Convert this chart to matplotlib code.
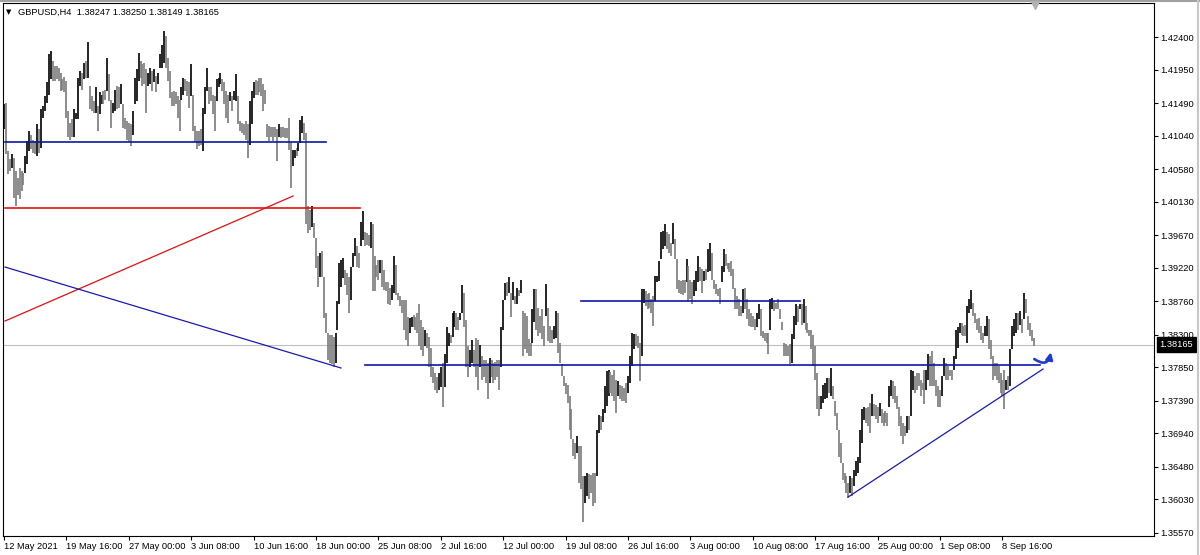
import matplotlib
matplotlib.use('Agg')
import matplotlib.pyplot as plt
import numpy as np
from matplotlib.lines import Line2D
from matplotlib.transforms import blended_transform_factory

plt.rcParams['font.family'] = ['Liberation Sans', 'DejaVu Sans']

symbol = 'GBPUSD,H4'
last_ohlc = [1.38247, 1.38250, 1.38149, 1.38165]
bid = 1.38165

# H4 bar highs / lows, 12 May 2021 08:00 onwards
highs = [
    # 12 May - 17 Jun
    1.4148, 1.4150, 1.4083, 1.4072, 1.4079, 1.4074, 1.4056, 1.4046, 1.4060, 1.4056,
    1.4053, 1.4076, 1.4097, 1.4111, 1.4106, 1.4099, 1.4097, 1.4120, 1.4113, 1.4141,
    1.4145, 1.4159, 1.4178, 1.4217, 1.4221, 1.4207, 1.4200, 1.4200, 1.4198, 1.4191,
    1.4182, 1.4185, 1.4180, 1.4138, 1.4122, 1.4127, 1.4141, 1.4136, 1.4184, 1.4194,
    1.4191, 1.4205, 1.4207, 1.4233, 1.4173, 1.4159, 1.4152, 1.4171, 1.4145, 1.4164,
    1.4161, 1.4166, 1.4168, 1.4212, 1.4189, 1.4154, 1.4150, 1.4168, 1.4173, 1.4171,
    1.4175, 1.4148, 1.4129, 1.4125, 1.4122, 1.4120, 1.4138, 1.4184, 1.4196, 1.4219,
    1.4207, 1.4203, 1.4205, 1.4196, 1.4191, 1.4198, 1.4194, 1.4196, 1.4187, 1.4191,
    1.4217, 1.4230, 1.4249, 1.4242, 1.4212, 1.4194, 1.4164, 1.4166, 1.4164, 1.4159,
    1.4154, 1.4171, 1.4184, 1.4182, 1.4180, 1.4178, 1.4203, 1.4161, 1.4118, 1.4111,
    1.4111, 1.4113, 1.4143, 1.4171, 1.4198, 1.4171, 1.4171, 1.4161, 1.4159, 1.4182,
    1.4184, 1.4191, 1.4182, 1.4178, 1.4166, 1.4161, 1.4164, 1.4159, 1.4166, 1.4189,
    1.4159, 1.4125, 1.4122, 1.4120, 1.4125, 1.4120, 1.4152, 1.4166, 1.4178, 1.4181,
    1.4180, 1.4184, 1.4184, 1.4175, 1.4168, 1.4120, 1.4118,
    # 17 Jun - 15 Jul
    1.4117, 1.4117, 1.4117, 1.4113, 1.4120, 1.4117, 1.4117, 1.4115, 1.4115, 1.4129,
    1.4094, 1.4085, 1.4085, 1.4087, 1.4094, 1.4126, 1.4132, 1.4122, 1.4108, 1.4007,
    1.4002, 1.4008, 1.3984, 1.3963, 1.3938, 1.3942, 1.3945, 1.3910, 1.3860, 1.3832,
    1.3830, 1.3829, 1.3827, 1.3832, 1.3876, 1.3929, 1.3933, 1.3936, 1.3919, 1.3915,
    1.3910, 1.3924, 1.3942, 1.3963, 1.3952, 1.3942, 1.3986, 1.4001, 1.3972, 1.3970,
    1.3968, 1.3986, 1.3982, 1.3938, 1.3926, 1.3933, 1.3933, 1.3933, 1.3919, 1.3903,
    1.3903, 1.3894, 1.3899, 1.3939, 1.3926, 1.3887, 1.3883, 1.3878, 1.3878, 1.3878,
    1.3855, 1.3853, 1.3855, 1.3857, 1.3855, 1.3860, 1.3873, 1.3850, 1.3841, 1.3837,
    1.3832, 1.3827, 1.3811, 1.3786, 1.3777, 1.3772, 1.3777, 1.3786, 1.3791, 1.3804,
    1.3841, 1.3832, 1.3830, 1.3860, 1.3862, 1.3860, 1.3855, 1.3860, 1.3899, 1.3887,
    1.3850, 1.3814, 1.3809, 1.3823, 1.3809, 1.3825, 1.3823, 1.3816, 1.3800, 1.3795,
    1.3795, 1.3791, 1.3798, 1.3795, 1.3791, 1.3793, 1.3795, 1.3795, 1.3841, 1.3878,
    1.3901, 1.3903, 1.3910, 1.3887, 1.3903, 1.3883, 1.3894, 1.3892, 1.3906,
    # 15 Jul - 12 Aug
    1.3863, 1.3860, 1.3856, 1.3824, 1.3819, 1.3865, 1.3893, 1.3893, 1.3867, 1.3856,
    1.3865, 1.3842, 1.3900, 1.3867, 1.3842, 1.3837, 1.3842, 1.3863, 1.3860, 1.3819,
    1.3789, 1.3773, 1.3764, 1.3761, 1.3745, 1.3727, 1.3686, 1.3681, 1.3690, 1.3676,
    1.3676, 1.3635, 1.3635, 1.3640, 1.3638, 1.3637, 1.3640, 1.3640, 1.3699, 1.3720,
    1.3718, 1.3727, 1.3759, 1.3780, 1.3782, 1.3778, 1.3775, 1.3782, 1.3768, 1.3766,
    1.3761, 1.3759, 1.3757, 1.3764, 1.3773, 1.3801, 1.3833, 1.3831, 1.3831, 1.3828,
    1.3819, 1.3893, 1.3893, 1.3890, 1.3886, 1.3888, 1.3879, 1.3883, 1.3911, 1.3911,
    1.3932, 1.3971, 1.3973, 1.3982, 1.3971, 1.3969, 1.3957, 1.3984, 1.3962, 1.3934,
    1.3906, 1.3904, 1.3905, 1.3906, 1.3934, 1.3925, 1.3906, 1.3902, 1.3906, 1.3918,
    1.3939, 1.3923, 1.3920, 1.3918, 1.3920, 1.3948, 1.3957, 1.3943, 1.3906, 1.3900,
    1.3893, 1.3895, 1.3925, 1.3948, 1.3941, 1.3929, 1.3929, 1.3932, 1.3920, 1.3895,
    1.3883, 1.3879, 1.3870, 1.3893, 1.3895, 1.3879, 1.3865, 1.3860, 1.3856, 1.3851,
    1.3860, 1.3872, 1.3865, 1.3835, 1.3833, 1.3833, 1.3833, 1.3879, 1.3881, 1.3877,
    1.3874, 1.3879, 1.3865, 1.3847, 1.3819, 1.3817, 1.3814, 1.3817, 1.3831, 1.3856,
    1.3872, 1.3870, 1.3872,
    # 12 Aug - 13 Sep
    1.3872, 1.3879, 1.3869, 1.3846, 1.3837, 1.3837, 1.3830, 1.3814, 1.3777, 1.3745,
    1.3745, 1.3761, 1.3764, 1.3771, 1.3771, 1.3784, 1.3759, 1.3738, 1.3722, 1.3699,
    1.3681, 1.3653, 1.3639, 1.3635, 1.3626, 1.3635, 1.3633, 1.3644, 1.3656, 1.3662,
    1.3699, 1.3727, 1.3731, 1.3729, 1.3731, 1.3736, 1.3748, 1.3734, 1.3733, 1.3731,
    1.3736, 1.3727, 1.3722, 1.3725, 1.3722, 1.3759, 1.3768, 1.3766, 1.3759, 1.3745,
    1.3731, 1.3718, 1.3708, 1.3704, 1.3718, 1.3718, 1.3782, 1.3780, 1.3773, 1.3777,
    1.3777, 1.3768, 1.3764, 1.3782, 1.3782, 1.3803, 1.3800, 1.3807, 1.3791, 1.3768,
    1.3759, 1.3754, 1.3773, 1.3798, 1.3791, 1.3787, 1.3782, 1.3782, 1.3800, 1.3837,
    1.3840, 1.3846, 1.3846, 1.3842, 1.3844, 1.3869, 1.3879, 1.3892, 1.3874, 1.3860,
    1.3851, 1.3853, 1.3842, 1.3833, 1.3842, 1.3856, 1.3851, 1.3823, 1.3800, 1.3791,
    1.3791, 1.3787, 1.3777, 1.3768, 1.3782, 1.3768, 1.3773, 1.3810, 1.3842, 1.3851,
    1.3860, 1.3860, 1.3863, 1.3851, 1.3888, 1.3879, 1.3856, 1.3846, 1.3837, 1.3825,
]

lows = [
    # 12 May - 17 Jun
    1.4113, 1.4079, 1.4051, 1.4056, 1.4060, 1.4019, 1.4007, 1.4023, 1.4017, 1.4028,
    1.4037, 1.4053, 1.4065, 1.4083, 1.4086, 1.4081, 1.4079, 1.4076, 1.4081, 1.4088,
    1.4129, 1.4138, 1.4150, 1.4161, 1.4182, 1.4180, 1.4180, 1.4182, 1.4180, 1.4166,
    1.4168, 1.4165, 1.4129, 1.4102, 1.4099, 1.4102, 1.4102, 1.4127, 1.4127, 1.4173,
    1.4168, 1.4182, 1.4184, 1.4184, 1.4141, 1.4138, 1.4136, 1.4136, 1.4111, 1.4134,
    1.4148, 1.4148, 1.4154, 1.4166, 1.4152, 1.4115, 1.4136, 1.4138, 1.4141, 1.4143,
    1.4148, 1.4115, 1.4113, 1.4099, 1.4095, 1.4090, 1.4106, 1.4148, 1.4152, 1.4180,
    1.4184, 1.4173, 1.4175, 1.4136, 1.4173, 1.4175, 1.4166, 1.4178, 1.4164, 1.4175,
    1.4198, 1.4198, 1.4205, 1.4198, 1.4180, 1.4157, 1.4145, 1.4145, 1.4148, 1.4129,
    1.4111, 1.4154, 1.4161, 1.4166, 1.4159, 1.4143, 1.4159, 1.4111, 1.4095, 1.4086,
    1.4090, 1.4092, 1.4083, 1.4134, 1.4166, 1.4148, 1.4152, 1.4134, 1.4111, 1.4152,
    1.4171, 1.4175, 1.4166, 1.4148, 1.4129, 1.4122, 1.4152, 1.4138, 1.4154, 1.4152,
    1.4120, 1.4111, 1.4108, 1.4106, 1.4099, 1.4074, 1.4092, 1.4120, 1.4157, 1.4160,
    1.4161, 1.4164, 1.4159, 1.4138, 1.4148, 1.4102, 1.4097,
    # 17 Jun - 15 Jul
    1.4103, 1.4097, 1.4103, 1.4069, 1.4103, 1.4101, 1.4103, 1.4101, 1.4101, 1.4085,
    1.4032, 1.4062, 1.4074, 1.4076, 1.4083, 1.4094, 1.4108, 1.4099, 1.3982, 1.3970,
    1.3975, 1.3979, 1.3963, 1.3922, 1.3896, 1.3910, 1.3910, 1.3853, 1.3832, 1.3795,
    1.3791, 1.3789, 1.3786, 1.3791, 1.3837, 1.3873, 1.3896, 1.3908, 1.3899, 1.3885,
    1.3860, 1.3878, 1.3924, 1.3938, 1.3924, 1.3922, 1.3952, 1.3961, 1.3952, 1.3954,
    1.3952, 1.3949, 1.3890, 1.3890, 1.3910, 1.3906, 1.3915, 1.3896, 1.3892, 1.3890,
    1.3873, 1.3871, 1.3878, 1.3887, 1.3885, 1.3878, 1.3869, 1.3860, 1.3837, 1.3823,
    1.3814, 1.3832, 1.3841, 1.3840, 1.3837, 1.3832, 1.3814, 1.3809, 1.3800, 1.3814,
    1.3811, 1.3786, 1.3772, 1.3763, 1.3754, 1.3749, 1.3754, 1.3758, 1.3730, 1.3758,
    1.3791, 1.3814, 1.3818, 1.3827, 1.3841, 1.3837, 1.3837, 1.3850, 1.3860, 1.3841,
    1.3786, 1.3772, 1.3786, 1.3791, 1.3786, 1.3772, 1.3754, 1.3786, 1.3768, 1.3772,
    1.3763, 1.3741, 1.3763, 1.3772, 1.3763, 1.3768, 1.3772, 1.3754, 1.3786, 1.3837,
    1.3878, 1.3883, 1.3887, 1.3855, 1.3878, 1.3873, 1.3873, 1.3883, 1.3887,
    # 15 Jul - 12 Aug
    1.3801, 1.3810, 1.3805, 1.3801, 1.3801, 1.3819, 1.3847, 1.3837, 1.3828, 1.3833,
    1.3824, 1.3814, 1.3856, 1.3821, 1.3819, 1.3819, 1.3824, 1.3826, 1.3805, 1.3791,
    1.3773, 1.3759, 1.3748, 1.3736, 1.3699, 1.3686, 1.3663, 1.3658, 1.3667, 1.3626,
    1.3617, 1.3572, 1.3598, 1.3607, 1.3604, 1.3612, 1.3594, 1.3598, 1.3635, 1.3695,
    1.3699, 1.3709, 1.3722, 1.3732, 1.3745, 1.3750, 1.3745, 1.3739, 1.3722, 1.3745,
    1.3741, 1.3739, 1.3739, 1.3736, 1.3750, 1.3764, 1.3787, 1.3810, 1.3814, 1.3812,
    1.3766, 1.3801, 1.3874, 1.3870, 1.3865, 1.3867, 1.3860, 1.3842, 1.3877, 1.3902,
    1.3904, 1.3934, 1.3948, 1.3952, 1.3948, 1.3943, 1.3939, 1.3955, 1.3934, 1.3893,
    1.3888, 1.3886, 1.3885, 1.3888, 1.3902, 1.3877, 1.3879, 1.3872, 1.3883, 1.3890,
    1.3902, 1.3904, 1.3888, 1.3904, 1.3906, 1.3916, 1.3918, 1.3906, 1.3893, 1.3886,
    1.3883, 1.3872, 1.3902, 1.3916, 1.3925, 1.3920, 1.3916, 1.3911, 1.3893, 1.3865,
    1.3865, 1.3856, 1.3856, 1.3860, 1.3865, 1.3851, 1.3842, 1.3840, 1.3840, 1.3837,
    1.3840, 1.3851, 1.3828, 1.3826, 1.3821, 1.3819, 1.3803, 1.3837, 1.3865, 1.3863,
    1.3865, 1.3865, 1.3851, 1.3837, 1.3801, 1.3801, 1.3801, 1.3790, 1.3791, 1.3824,
    1.3844, 1.3847, 1.3865,
    # 12 Aug - 13 Sep
    1.3844, 1.3846, 1.3837, 1.3833, 1.3828, 1.3810, 1.3787, 1.3768, 1.3727, 1.3718,
    1.3727, 1.3736, 1.3741, 1.3743, 1.3750, 1.3745, 1.3741, 1.3718, 1.3699, 1.3662,
    1.3653, 1.3630, 1.3626, 1.3612, 1.3605, 1.3612, 1.3607, 1.3621, 1.3635, 1.3639,
    1.3653, 1.3681, 1.3713, 1.3708, 1.3704, 1.3695, 1.3718, 1.3718, 1.3714, 1.3708,
    1.3718, 1.3708, 1.3704, 1.3708, 1.3704, 1.3731, 1.3745, 1.3741, 1.3736, 1.3727,
    1.3704, 1.3690, 1.3679, 1.3690, 1.3695, 1.3699, 1.3718, 1.3754, 1.3750, 1.3754,
    1.3759, 1.3745, 1.3754, 1.3734, 1.3754, 1.3768, 1.3759, 1.3759, 1.3759, 1.3745,
    1.3731, 1.3731, 1.3745, 1.3773, 1.3768, 1.3768, 1.3773, 1.3768, 1.3782, 1.3796,
    1.3812, 1.3833, 1.3830, 1.3828, 1.3828, 1.3819, 1.3860, 1.3865, 1.3856, 1.3846,
    1.3837, 1.3833, 1.3823, 1.3819, 1.3828, 1.3828, 1.3810, 1.3796, 1.3768, 1.3773,
    1.3768, 1.3764, 1.3750, 1.3745, 1.3727, 1.3754, 1.3754, 1.3759, 1.3810, 1.3828,
    1.3833, 1.3837, 1.3844, 1.3833, 1.3851, 1.3860, 1.3837, 1.3828, 1.3821, 1.3815,
]

# a time label every 32 bars
label_step = 32
time_labels = ['12 May 2021', '19 May 16:00', '27 May 00:00', '3 Jun 08:00',
               '10 Jun 16:00', '18 Jun 00:00', '25 Jun 08:00', '2 Jul 16:00',
               '12 Jul 00:00', '19 Jul 08:00', '26 Jul 16:00', '3 Aug 00:00',
               '10 Aug 08:00', '17 Aug 16:00', '25 Aug 00:00', '1 Sep 08:00',
               '8 Sep 16:00']
price_ticks = [1.42400, 1.41950, 1.41490, 1.41040, 1.40580, 1.40130, 1.39670,
               1.39220, 1.38760, 1.38300, 1.37850, 1.37390, 1.36940, 1.36480,
               1.36030, 1.35570]

# drawn objects: horizontal levels (from bar, to bar, price)
blue_levels = [(0.5, 165.0, 1.40960), (185.1, 531.3, 1.37882), (295.9, 408.2, 1.38764)]
red_levels = [(0.5, 182.6, 1.40047)]
# trend lines (bar, price, bar, price)
red_trends = [(0.5, 1.38489, 148.2, 1.40212)]
blue_trends = [(0.5, 1.39233, 172.8, 1.37841), (432.8, 1.36062, 532.8, 1.37827)]
arrow_from = (528.3, 1.37965)
arrow_to = (536.8, 1.38060)

BLUE = '#0c16a6'
RED = '#e41010'

fig = plt.figure(figsize=(12, 5.55), dpi=100)
ax = fig.add_axes([3 / 1200, 19 / 555, 1151 / 1200, 533 / 555])

highs = np.array(highs)
lows = np.array(lows)
x = np.arange(len(highs))
mid = (highs + lows) / 2
# strong up bars in black, everything else grey
up = np.r_[True, (mid[1:] - mid[:-1]) > 0.0004]
colors = np.where(up, '#000000', '#7a7a7a')

ax.axhline(bid, color='#c0c0c0', lw=0.8, zorder=0)
ax.vlines(x, lows, highs, colors=colors, linewidth=1.2, zorder=2)

for x0, x1, p in blue_levels:
    ax.plot([x0, x1], [p, p], color=BLUE, lw=1.2, zorder=3)
for x0, x1, p in red_levels:
    ax.plot([x0, x1], [p, p], color=RED, lw=1.2, zorder=3)
for x0, p0, x1, p1 in red_trends:
    ax.plot([x0, x1], [p0, p1], color=RED, lw=0.9, zorder=3)
for x0, p0, x1, p1 in blue_trends:
    ax.plot([x0, x1], [p0, p1], color='#1a1ab4', lw=0.9, zorder=3)

ax.annotate('', xy=arrow_to, xytext=arrow_from,
            arrowprops=dict(arrowstyle='-|>', connectionstyle='arc3,rad=0.75',
                            color='#1e3cd2', lw=1.9, mutation_scale=10,
                            shrinkA=0, shrinkB=0), zorder=4)

ax.set_xlim(-0.51, 589.7)
ax.set_ylim(1.35525, 1.42873)

ax.yaxis.tick_right()
ax.set_yticks(price_ticks)
ax.set_yticklabels(['%.5f' % p for p in price_ticks])
ax.set_xticks(np.arange(len(time_labels)) * label_step)
ax.set_xticklabels(time_labels)
for lab in ax.get_xticklabels():
    lab.set_ha('left')
ax.tick_params(axis='y', direction='out', length=3, width=0.8, pad=1.5,
               labelsize=6.7, colors='black')
ax.tick_params(axis='x', direction='out', length=3, width=0.8, pad=1.5,
               labelsize=6.7, colors='black')
for s in ax.spines.values():
    s.set_color('black')
    s.set_linewidth(0.8)

# bid price tag on the price scale
trans = blended_transform_factory(ax.transAxes, ax.transData)
ax.annotate('%.5f' % bid, xy=(1.0, bid), xycoords=trans, xytext=(4, 0),
            textcoords='offset points', ha='left', va='center', fontsize=6.7,
            color='white', annotation_clip=False,
            bbox=dict(boxstyle='square,pad=0.3', facecolor='black', edgecolor='black'))

# chart header
fig.text(18 / 1200, 1 - 12 / 555,
         '%s  %s' % (symbol, ' '.join('%.5f' % v for v in last_ohlc)),
         fontsize=6.7, va='center', ha='left')
fig.text(9 / 1200, 1 - 12 / 555, '\u25bc', fontsize=5, va='center', ha='center',
         family=['DejaVu Sans'])

# window frame and chart shift marker
fig.add_artist(Line2D([0, 1], [1 - 0.8 / 555, 1 - 0.8 / 555], color='#a0a0a0', lw=1.5))
fig.add_artist(Line2D([1197.5 / 1200, 1197.5 / 1200], [0, 1], color='#c8c8c8', lw=1.5))
fig.add_artist(Line2D([1035 / 1200], [1 - 5 / 555], marker='v', markersize=6,
                      color='#b0b0b0', lw=0))

fig.savefig('out.png', dpi=100)
